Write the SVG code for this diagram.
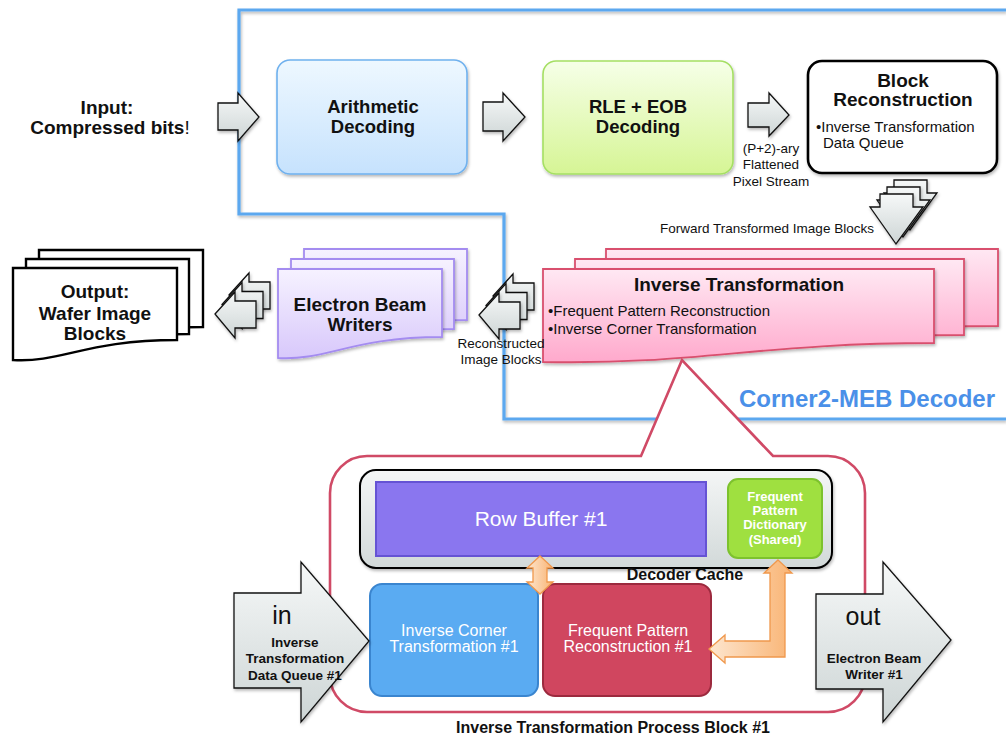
<svg xmlns="http://www.w3.org/2000/svg" width="1006" height="737" viewBox="0 0 1006 737">
<defs>
<linearGradient id="gGray" x1="0" y1="0" x2="0" y2="1"><stop offset="0" stop-color="#f6f8f8"/><stop offset="1" stop-color="#cdd5d5"/></linearGradient>
<linearGradient id="gBlue" x1="0" y1="0" x2="0" y2="1"><stop offset="0" stop-color="#eef8ff"/><stop offset="1" stop-color="#c6e2fd"/></linearGradient>
<linearGradient id="gGreen" x1="0" y1="0" x2="0" y2="1"><stop offset="0" stop-color="#f6ffe8"/><stop offset="1" stop-color="#d6f595"/></linearGradient>
<linearGradient id="gLav" x1="0" y1="0" x2="0" y2="1"><stop offset="0" stop-color="#f6f2ff"/><stop offset="1" stop-color="#d8c8fb"/></linearGradient>
<linearGradient id="gPink" x1="0" y1="0" x2="0" y2="1"><stop offset="0" stop-color="#ffe8f3"/><stop offset="1" stop-color="#ffa9cc"/></linearGradient>
<linearGradient id="gCache" x1="0" y1="0" x2="0" y2="1"><stop offset="0" stop-color="#f4f6f6"/><stop offset="1" stop-color="#d2d9d9"/></linearGradient>
<linearGradient id="gOrange" x1="0" y1="0" x2="1" y2="0"><stop offset="0" stop-color="#fde6cf"/><stop offset="1" stop-color="#f9b474"/></linearGradient>
<filter id="sh" x="-10%" y="-10%" width="130%" height="130%"><feDropShadow dx="1" dy="2" stdDeviation="1.5" flood-color="#000" flood-opacity="0.28"/></filter>
<polygon id="arrL" points="215,314 235,292 235,301 256,301 256,328 235,328 235,338"/>
<polygon id="arrD" points="880,194 913,194 913,207 923,207 896,244 870,207 880,207"/>
</defs>
<style>
text{font-family:"Liberation Sans",Arial,Helvetica,sans-serif;}
.b{font-weight:bold;}
.c{text-anchor:middle;}
.ga{fill:url(#gGray);stroke:#111;stroke-width:1.3;stroke-linejoin:miter;filter:url(#sh);}
.sm{font-size:13.5px;fill:#111;}
.blk{fill:#111;}
.wt{fill:#fff;}
</style>

<g id="frame">
<path d="M1006,10 H239 V214 H504 V419 H1006" fill="none" stroke="#5ca8ef" stroke-width="3.2" filter="url(#sh)"/>
<text x="739" y="407" class="b" font-size="24" fill="#4a90e8">Corner2-MEB Decoder</text>
</g>

<g id="input">
<text x="107" y="114" class="b c blk" font-size="19">Input:</text>
<text x="110" y="134" class="b c blk" font-size="19">Compressed bits<tspan font-weight="normal">!</tspan></text>
</g>

<g id="arithmetic">
<rect x="277" y="60" width="190" height="114" rx="13" fill="url(#gBlue)" stroke="#6fb1ee" stroke-width="1.6" filter="url(#sh)"/>
<text x="373" y="113" class="b c blk" font-size="18.5">Arithmetic</text>
<text x="373" y="133" class="b c blk" font-size="18.5">Decoding</text>
</g>

<g id="rle">
<rect x="543" y="61" width="190" height="113" rx="13" fill="url(#gGreen)" stroke="#a5df63" stroke-width="1.6" filter="url(#sh)"/>
<text x="638" y="113" class="b c blk" font-size="18.5">RLE + EOB</text>
<text x="638" y="133" class="b c blk" font-size="18.5">Decoding</text>
</g>

<g id="blockrec">
<rect x="808" y="61" width="189" height="112" rx="14" fill="#fff" stroke="#000" stroke-width="2.6" filter="url(#sh)"/>
<text x="903" y="87" class="b c blk" font-size="19">Block</text>
<text x="903" y="106" class="b c blk" font-size="19">Reconstruction</text>
<text x="816" y="132" font-size="15" class="blk">•Inverse Transformation</text>
<text x="823" y="148" font-size="15" class="blk">Data Queue</text>
</g>

<g id="inverse">
<path d="M606,249 H998 V326 C814,326 763,345 606,342 Z" fill="url(#gPink)" stroke="#d9506e" stroke-width="1.8" filter="url(#sh)"/>
<path d="M575,259 H964 V335 C789,335 731,355 575,352 Z" fill="url(#gPink)" stroke="#d9506e" stroke-width="1.8" filter="url(#sh)"/>
<path d="M543,269 H934 V343 C758,343 699,365 543,362 Z" fill="url(#gPink)" stroke="#d9506e" stroke-width="1.8" filter="url(#sh)"/>
<text x="739" y="291" class="b c blk" font-size="19">Inverse Transformation</text>
<text x="548" y="316" font-size="15" class="blk">•Frequent Pattern Reconstruction</text>
<text x="548" y="334" font-size="15" class="blk">•Inverse Corner Transformation</text>
</g>

<g id="ebw">
<path d="M304,249 H467 V320 C377,320 352,341 304,338 Z" fill="url(#gLav)" stroke="#a48cf0" stroke-width="1.8" filter="url(#sh)"/>
<path d="M291,259 H454 V329 C364,329 339,351 291,348 Z" fill="url(#gLav)" stroke="#a48cf0" stroke-width="1.8" filter="url(#sh)"/>
<path d="M278,269 H442 V337 C352,337 326,361 278,358 Z" fill="url(#gLav)" stroke="#a48cf0" stroke-width="1.8" filter="url(#sh)"/>
<text x="360" y="311" class="b c blk" font-size="19">Electron Beam</text>
<text x="360" y="331" class="b c blk" font-size="19">Writers</text>
</g>

<g id="output">
<path d="M39,250 H203 V327 C113,327 87,345 39,342 Z" fill="#fff" stroke="#000" stroke-width="2.4"/>
<path d="M26,259 H189 V334 C99,334 74,354 26,351 Z" fill="#fff" stroke="#000" stroke-width="2.4"/>
<path d="M13,268 H177 V340 C87,340 61,363 13,360 Z" fill="#fff" stroke="#000" stroke-width="2.4"/>
<text x="95" y="298" class="b c blk" font-size="19">Output:</text>
<text x="95" y="320" class="b c blk" font-size="19">Wafer Image</text>
<text x="95" y="340" class="b c blk" font-size="19">Blocks</text>
</g>

<g id="process-block">
<path d="M682,360 L641,456 H367 A37,37 0 0 0 330,493 V675 A37,37 0 0 0 367,712 H828 A37,37 0 0 0 865,675 V493 A37,37 0 0 0 828,456 H773 Z" fill="#fff" stroke="#d04a66" stroke-width="2.6" stroke-linejoin="miter"/>
<text x="613" y="733" class="b c blk" font-size="16">Inverse Transformation Process Block #1</text>
</g>

<g id="decoder-cache">
<rect x="360" y="470" width="472" height="98" rx="16" fill="url(#gCache)" stroke="#000" stroke-width="2" filter="url(#sh)"/>
<text x="685" y="580" class="b c blk" font-size="16">Decoder Cache</text>
</g>

<g id="row-buffer">
<rect x="376" y="482" width="330" height="74" fill="#8a76ef" stroke="#6553d4" stroke-width="2"/>
<text x="541" y="526" class="c wt" font-size="21">Row Buffer #1</text>
</g>

<g id="fp-dictionary">
<rect x="728" y="479" width="94" height="79" rx="10" fill="#9fe040" stroke="#7dc22d" stroke-width="2"/>
<text x="775" y="501" class="b c wt" font-size="13">Frequent</text>
<text x="775" y="515" class="b c wt" font-size="13">Pattern</text>
<text x="775" y="529" class="b c wt" font-size="13">Dictionary</text>
<text x="775" y="544" class="b c wt" font-size="13">(Shared)</text>
</g>

<g id="ict">
<rect x="370" y="584" width="168" height="112" rx="12" fill="#5aabf2" stroke="#3a85cf" stroke-width="2"/>
<text x="454" y="636" class="c wt" font-size="16">Inverse Corner</text>
<text x="454" y="652" class="c wt" font-size="16">Transformation #1</text>
</g>

<g id="fpr">
<rect x="543" y="584" width="168" height="112" rx="12" fill="#d0465f" stroke="#9c2a3e" stroke-width="2"/>
<text x="628" y="636" class="c wt" font-size="16">Frequent Pattern</text>
<text x="628" y="652" class="c wt" font-size="16">Reconstruction #1</text>
</g>

<g id="in-arrow">
<polygon class="ga" points="234,593 301,593 301,562 369,641 301,722 301,688 234,688"/>
<text x="282" y="624" class="c blk" font-size="25">in</text>
<text x="295" y="647" class="b c blk" font-size="13.5">Inverse</text>
<text x="295" y="663" class="b c blk" font-size="13.5">Transformation</text>
<text x="295" y="680" class="b c blk" font-size="13.5">Data Queue #1</text>
</g>

<g id="out-arrow">
<polygon class="ga" points="816,594 883,594 883,562 951,640 883,722 883,689 816,689"/>
<text x="863" y="625" class="c blk" font-size="25">out</text>
<text x="874" y="663" class="b c blk" font-size="13.5">Electron Beam</text>
<text x="874" y="679" class="b c blk" font-size="13.5">Writer #1</text>
</g>

<g id="connectors">
<polygon class="ga" points="218,103 238,103 238,93 259,117 238,141 238,130 218,130"/>
<polygon class="ga" points="483,102 503,102 503,93 525,117 503,141 503,131 483,131"/>
<polygon class="ga" points="748,103 769,103 769,93 789,115 769,136 769,127 748,127"/>
<text x="771" y="153" class="c sm">(P+2)-ary</text>
<text x="771" y="169" class="c sm">Flattened</text>
<text x="771" y="186" class="c sm">Pixel Stream</text>
<use href="#arrD" class="ga" transform="translate(14,-14)"/>
<use href="#arrD" class="ga" transform="translate(7,-7)"/>
<use href="#arrD" class="ga"/>
<text x="767" y="233" class="c sm">Forward Transformed Image Blocks</text>
<use href="#arrL" class="ga" transform="translate(14,-19)"/>
<use href="#arrL" class="ga" transform="translate(7,-9.5)"/>
<use href="#arrL" class="ga"/>
<g transform="translate(264,1)">
<use href="#arrL" class="ga" transform="translate(14,-19)"/>
<use href="#arrL" class="ga" transform="translate(7,-9.5)"/>
<use href="#arrL" class="ga"/>
</g>
<text x="501" y="348" class="c sm">Reconstructed</text>
<text x="501" y="364" class="c sm">Image Blocks</text>
<polygon points="540,556 553,568 547,568 547,582 553,582 540,594 527,582 533,582 533,568 527,568" fill="url(#gOrange)" stroke="#f0984c" stroke-width="1.3"/>
<polygon points="778,560 792,573 785,573 785,657 725,657 725,663 709,649 725,635 725,641 770,641 770,573 764,573" fill="url(#gOrange)" stroke="#f0984c" stroke-width="1.3"/>
</g>
</svg>
